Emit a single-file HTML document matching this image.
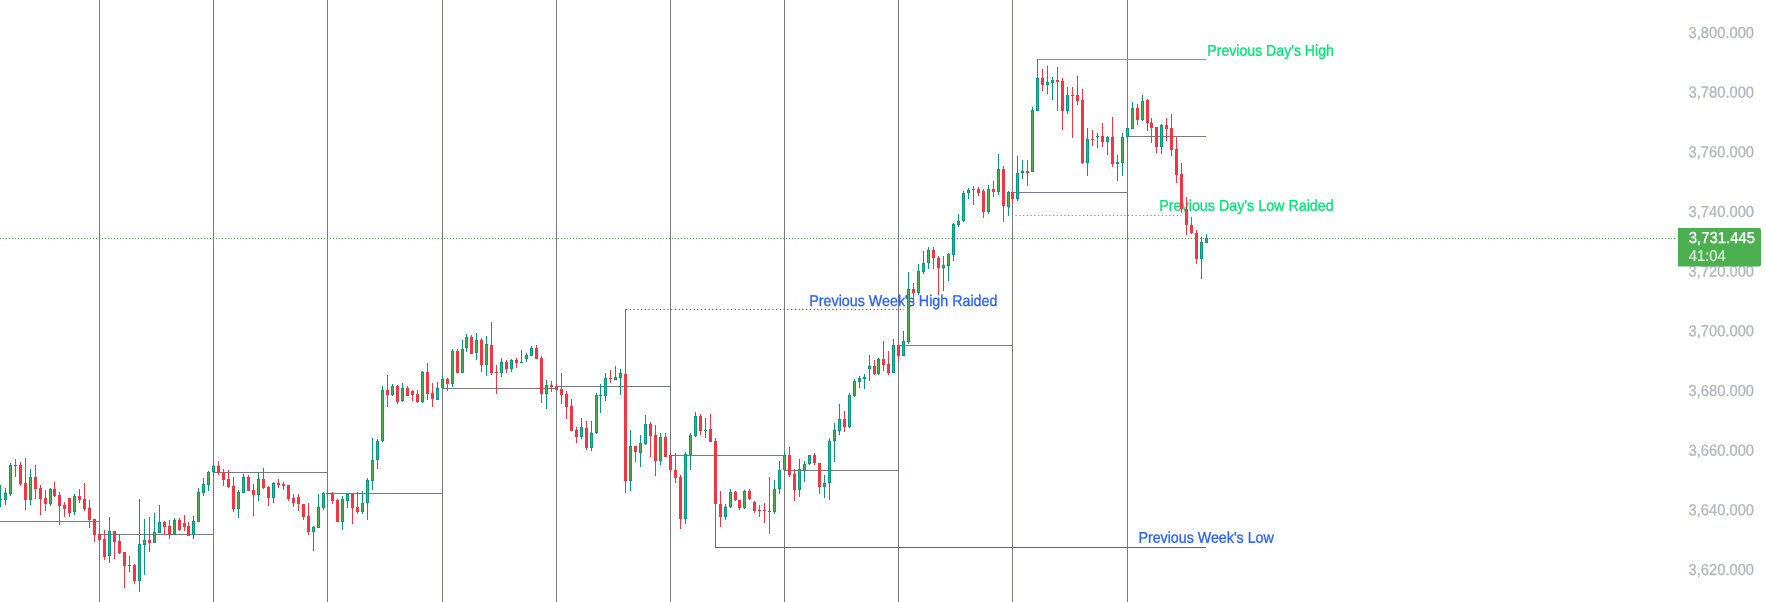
<!DOCTYPE html>
<html><head><meta charset="utf-8"><title>chart</title>
<style>
html,body{margin:0;padding:0;background:#ffffff;}
body{width:1766px;height:602px;overflow:hidden;font-family:"Liberation Sans",sans-serif;}
svg{display:block;font-family:"Liberation Sans",sans-serif;will-change:transform;}
</style></head><body>
<svg width="1766" height="602" viewBox="0 0 1766 602">
<g shape-rendering="crispEdges">
<rect x="99" y="0" width="1" height="602" fill="#787B86"/>
<rect x="213" y="0" width="1" height="602" fill="#787B86"/>
<rect x="327" y="0" width="1" height="602" fill="#787B86"/>
<rect x="442" y="0" width="1" height="602" fill="#787B86"/>
<rect x="556" y="0" width="1" height="602" fill="#787B86"/>
<rect x="670" y="0" width="1" height="602" fill="#787B86"/>
<rect x="784" y="0" width="1" height="602" fill="#787B86"/>
<rect x="898" y="0" width="1" height="602" fill="#787B86"/>
<rect x="1012" y="0" width="1" height="602" fill="#787B86"/>
<rect x="1127" y="0" width="1" height="602" fill="#787B86"/>
<rect x="0" y="521" width="99" height="1" fill="#787B86"/>
<rect x="99" y="534" width="114" height="1" fill="#787B86"/>
<rect x="213" y="472" width="114" height="1" fill="#787B86"/>
<rect x="327" y="493" width="115" height="1" fill="#787B86"/>
<rect x="442" y="388" width="114" height="1" fill="#787B86"/>
<rect x="556" y="386" width="114" height="1" fill="#787B86"/>
<rect x="670" y="455" width="114" height="1" fill="#787B86"/>
<rect x="784" y="470" width="114" height="1" fill="#787B86"/>
<rect x="898" y="345" width="114" height="1" fill="#787B86"/>
<rect x="1012" y="192" width="115" height="1" fill="#787B86"/>
<rect x="1127" y="136" width="79" height="1" fill="#787B86"/>
</g>
<!-- price line -->
<line x1="0" y1="238.5" x2="1676" y2="238.5" stroke="#4CAF50" stroke-width="1" stroke-dasharray="1 2" shape-rendering="crispEdges"/>
<!-- drawings -->
<g shape-rendering="crispEdges">
<rect x="1037" y="59" width="169" height="1" fill="#00E676"/>
<rect x="715" y="547" width="491" height="1" fill="#2962FF"/>
</g>
<line x1="1008" y1="215.5" x2="1181.5" y2="215.5" stroke="#00E676" stroke-width="1" stroke-dasharray="1.25 2.5"/>
<line x1="626" y1="309.5" x2="904" y2="309.5" stroke="#2962FF" stroke-width="1" stroke-dasharray="1.25 2.5"/>
<g transform="translate(1207.3,55.7) rotate(0.03) scale(1,1.06)"><text x="0" y="0" textLength="126.6" lengthAdjust="spacingAndGlyphs" fill="#00E676" stroke="#00E676" stroke-width="0.3" font-size="14.7">Previous Day's High</text></g>
<g transform="translate(1159.3,210.7) rotate(0.03) scale(1,1.06)"><text x="0" y="0" textLength="174.4" lengthAdjust="spacingAndGlyphs" fill="#00E676" stroke="#00E676" stroke-width="0.3" font-size="14.7">Previous Day's Low Raided</text></g>
<g transform="translate(809.3,305.9) rotate(0.03) scale(1,1.06)"><text x="0" y="0" textLength="188.1" lengthAdjust="spacingAndGlyphs" fill="#2962FF" stroke="#2962FF" stroke-width="0.3" font-size="14.7">Previous Week's High Raided</text></g>
<g transform="translate(1138.4,542.7) rotate(0.03) scale(1,1.06)"><text x="0" y="0" textLength="135.4" lengthAdjust="spacingAndGlyphs" fill="#2962FF" stroke="#2962FF" stroke-width="0.3" font-size="14.7">Previous Week's Low</text></g>
<g shape-rendering="crispEdges">
<rect x="0" y="485" width="1" height="22" fill="#089981"/>
<rect x="-1" y="499" width="3" height="1" fill="#089981"/>
<rect x="5" y="488" width="1" height="17" fill="#089981"/>
<rect x="4" y="493" width="3" height="7" fill="#089981"/>
<rect x="5" y="494" width="1" height="5" fill="#4CAF50"/>
<rect x="10" y="463" width="1" height="33" fill="#089981"/>
<rect x="9" y="465" width="3" height="29" fill="#089981"/>
<rect x="10" y="466" width="1" height="27" fill="#4CAF50"/>
<rect x="15" y="459" width="1" height="18" fill="#F23645"/>
<rect x="14" y="465" width="3" height="1" fill="#F23645"/>
<rect x="20" y="462" width="1" height="24" fill="#F23645"/>
<rect x="19" y="465" width="3" height="19" fill="#F23645"/>
<rect x="25" y="458" width="1" height="52" fill="#F23645"/>
<rect x="24" y="483" width="3" height="17" fill="#F23645"/>
<rect x="30" y="469" width="1" height="36" fill="#089981"/>
<rect x="29" y="477" width="3" height="23" fill="#089981"/>
<rect x="30" y="478" width="1" height="21" fill="#4CAF50"/>
<rect x="35" y="465" width="1" height="34" fill="#F23645"/>
<rect x="34" y="477" width="3" height="12" fill="#F23645"/>
<rect x="40" y="485" width="1" height="30" fill="#F23645"/>
<rect x="39" y="488" width="3" height="11" fill="#F23645"/>
<rect x="45" y="490" width="1" height="21" fill="#F23645"/>
<rect x="44" y="498" width="3" height="6" fill="#F23645"/>
<rect x="50" y="488" width="1" height="18" fill="#089981"/>
<rect x="49" y="489" width="3" height="15" fill="#089981"/>
<rect x="50" y="490" width="1" height="13" fill="#4CAF50"/>
<rect x="54" y="482" width="1" height="15" fill="#F23645"/>
<rect x="53" y="489" width="3" height="7" fill="#F23645"/>
<rect x="59" y="492" width="1" height="33" fill="#F23645"/>
<rect x="58" y="495" width="3" height="11" fill="#F23645"/>
<rect x="64" y="502" width="1" height="15" fill="#F23645"/>
<rect x="63" y="505" width="3" height="4" fill="#F23645"/>
<rect x="69" y="498" width="1" height="19" fill="#F23645"/>
<rect x="68" y="498" width="3" height="15" fill="#F23645"/>
<rect x="74" y="494" width="1" height="21" fill="#089981"/>
<rect x="73" y="496" width="3" height="16" fill="#089981"/>
<rect x="74" y="497" width="1" height="14" fill="#4CAF50"/>
<rect x="79" y="489" width="1" height="14" fill="#F23645"/>
<rect x="78" y="496" width="3" height="4" fill="#F23645"/>
<rect x="84" y="483" width="1" height="28" fill="#F23645"/>
<rect x="83" y="499" width="3" height="10" fill="#F23645"/>
<rect x="89" y="500" width="1" height="28" fill="#F23645"/>
<rect x="88" y="508" width="3" height="12" fill="#F23645"/>
<rect x="94" y="519" width="1" height="23" fill="#F23645"/>
<rect x="93" y="519" width="3" height="16" fill="#F23645"/>
<rect x="99" y="528" width="1" height="12" fill="#F23645"/>
<rect x="98" y="534" width="3" height="6" fill="#F23645"/>
<rect x="104" y="530" width="1" height="30" fill="#F23645"/>
<rect x="103" y="539" width="3" height="18" fill="#F23645"/>
<rect x="109" y="517" width="1" height="46" fill="#089981"/>
<rect x="108" y="531" width="3" height="25" fill="#089981"/>
<rect x="109" y="532" width="1" height="23" fill="#4CAF50"/>
<rect x="114" y="531" width="1" height="28" fill="#F23645"/>
<rect x="113" y="531" width="3" height="11" fill="#F23645"/>
<rect x="119" y="535" width="1" height="19" fill="#F23645"/>
<rect x="118" y="541" width="3" height="12" fill="#F23645"/>
<rect x="124" y="552" width="1" height="36" fill="#F23645"/>
<rect x="123" y="552" width="3" height="14" fill="#F23645"/>
<rect x="129" y="556" width="1" height="16" fill="#089981"/>
<rect x="128" y="565" width="3" height="1" fill="#089981"/>
<rect x="134" y="564" width="1" height="20" fill="#F23645"/>
<rect x="133" y="565" width="3" height="16" fill="#F23645"/>
<rect x="139" y="499" width="1" height="93" fill="#089981"/>
<rect x="138" y="544" width="3" height="37" fill="#089981"/>
<rect x="139" y="545" width="1" height="35" fill="#4CAF50"/>
<rect x="144" y="519" width="1" height="56" fill="#089981"/>
<rect x="143" y="540" width="3" height="5" fill="#089981"/>
<rect x="144" y="541" width="1" height="3" fill="#4CAF50"/>
<rect x="149" y="517" width="1" height="35" fill="#F23645"/>
<rect x="148" y="540" width="3" height="3" fill="#F23645"/>
<rect x="154" y="513" width="1" height="30" fill="#089981"/>
<rect x="153" y="532" width="3" height="11" fill="#089981"/>
<rect x="154" y="533" width="1" height="9" fill="#4CAF50"/>
<rect x="159" y="505" width="1" height="28" fill="#089981"/>
<rect x="158" y="522" width="3" height="11" fill="#089981"/>
<rect x="159" y="523" width="1" height="9" fill="#4CAF50"/>
<rect x="164" y="521" width="1" height="14" fill="#F23645"/>
<rect x="163" y="522" width="3" height="5" fill="#F23645"/>
<rect x="169" y="520" width="1" height="19" fill="#F23645"/>
<rect x="168" y="526" width="3" height="9" fill="#F23645"/>
<rect x="174" y="518" width="1" height="17" fill="#089981"/>
<rect x="173" y="520" width="3" height="15" fill="#089981"/>
<rect x="174" y="521" width="1" height="13" fill="#4CAF50"/>
<rect x="179" y="518" width="1" height="13" fill="#F23645"/>
<rect x="178" y="520" width="3" height="10" fill="#F23645"/>
<rect x="184" y="515" width="1" height="16" fill="#F23645"/>
<rect x="183" y="523" width="3" height="4" fill="#F23645"/>
<rect x="188" y="522" width="1" height="14" fill="#F23645"/>
<rect x="187" y="526" width="3" height="10" fill="#F23645"/>
<rect x="193" y="516" width="1" height="23" fill="#089981"/>
<rect x="192" y="521" width="3" height="14" fill="#089981"/>
<rect x="193" y="522" width="1" height="12" fill="#4CAF50"/>
<rect x="198" y="488" width="1" height="34" fill="#089981"/>
<rect x="197" y="492" width="3" height="30" fill="#089981"/>
<rect x="198" y="493" width="1" height="28" fill="#4CAF50"/>
<rect x="203" y="478" width="1" height="18" fill="#089981"/>
<rect x="202" y="484" width="3" height="9" fill="#089981"/>
<rect x="203" y="485" width="1" height="7" fill="#4CAF50"/>
<rect x="208" y="471" width="1" height="20" fill="#089981"/>
<rect x="207" y="472" width="3" height="13" fill="#089981"/>
<rect x="208" y="473" width="1" height="11" fill="#4CAF50"/>
<rect x="213" y="462" width="1" height="14" fill="#089981"/>
<rect x="212" y="466" width="3" height="6" fill="#089981"/>
<rect x="213" y="467" width="1" height="4" fill="#4CAF50"/>
<rect x="218" y="461" width="1" height="14" fill="#F23645"/>
<rect x="217" y="466" width="3" height="6" fill="#F23645"/>
<rect x="223" y="469" width="1" height="17" fill="#F23645"/>
<rect x="222" y="472" width="3" height="8" fill="#F23645"/>
<rect x="228" y="470" width="1" height="18" fill="#F23645"/>
<rect x="227" y="479" width="3" height="8" fill="#F23645"/>
<rect x="233" y="477" width="1" height="35" fill="#F23645"/>
<rect x="232" y="486" width="3" height="23" fill="#F23645"/>
<rect x="238" y="490" width="1" height="28" fill="#089981"/>
<rect x="237" y="492" width="3" height="17" fill="#089981"/>
<rect x="238" y="493" width="1" height="15" fill="#4CAF50"/>
<rect x="243" y="474" width="1" height="19" fill="#089981"/>
<rect x="242" y="477" width="3" height="16" fill="#089981"/>
<rect x="243" y="478" width="1" height="14" fill="#4CAF50"/>
<rect x="248" y="475" width="1" height="16" fill="#F23645"/>
<rect x="247" y="477" width="3" height="14" fill="#F23645"/>
<rect x="253" y="484" width="1" height="32" fill="#F23645"/>
<rect x="252" y="490" width="3" height="5" fill="#F23645"/>
<rect x="258" y="473" width="1" height="28" fill="#089981"/>
<rect x="257" y="479" width="3" height="16" fill="#089981"/>
<rect x="258" y="480" width="1" height="14" fill="#4CAF50"/>
<rect x="263" y="468" width="1" height="21" fill="#F23645"/>
<rect x="262" y="479" width="3" height="9" fill="#F23645"/>
<rect x="268" y="486" width="1" height="20" fill="#F23645"/>
<rect x="267" y="487" width="3" height="11" fill="#F23645"/>
<rect x="273" y="482" width="1" height="21" fill="#089981"/>
<rect x="272" y="483" width="3" height="15" fill="#089981"/>
<rect x="273" y="484" width="1" height="13" fill="#4CAF50"/>
<rect x="278" y="479" width="1" height="9" fill="#F23645"/>
<rect x="277" y="483" width="3" height="2" fill="#F23645"/>
<rect x="283" y="482" width="1" height="8" fill="#F23645"/>
<rect x="282" y="484" width="3" height="2" fill="#F23645"/>
<rect x="288" y="485" width="1" height="16" fill="#F23645"/>
<rect x="287" y="485" width="3" height="14" fill="#F23645"/>
<rect x="293" y="494" width="1" height="13" fill="#F23645"/>
<rect x="292" y="498" width="3" height="5" fill="#F23645"/>
<rect x="298" y="494" width="1" height="17" fill="#F23645"/>
<rect x="297" y="497" width="3" height="7" fill="#F23645"/>
<rect x="303" y="504" width="1" height="16" fill="#F23645"/>
<rect x="302" y="504" width="3" height="13" fill="#F23645"/>
<rect x="308" y="503" width="1" height="32" fill="#F23645"/>
<rect x="307" y="516" width="3" height="16" fill="#F23645"/>
<rect x="313" y="526" width="1" height="25" fill="#089981"/>
<rect x="312" y="527" width="3" height="5" fill="#089981"/>
<rect x="313" y="528" width="1" height="3" fill="#4CAF50"/>
<rect x="318" y="494" width="1" height="34" fill="#089981"/>
<rect x="317" y="507" width="3" height="21" fill="#089981"/>
<rect x="318" y="508" width="1" height="19" fill="#4CAF50"/>
<rect x="323" y="492" width="1" height="18" fill="#089981"/>
<rect x="322" y="493" width="3" height="15" fill="#089981"/>
<rect x="323" y="494" width="1" height="13" fill="#4CAF50"/>
<rect x="327" y="490" width="1" height="9" fill="#F23645"/>
<rect x="326" y="493" width="3" height="1" fill="#F23645"/>
<rect x="332" y="492" width="1" height="12" fill="#F23645"/>
<rect x="331" y="493" width="3" height="8" fill="#F23645"/>
<rect x="337" y="499" width="1" height="23" fill="#F23645"/>
<rect x="336" y="500" width="3" height="22" fill="#F23645"/>
<rect x="342" y="496" width="1" height="34" fill="#089981"/>
<rect x="341" y="499" width="3" height="23" fill="#089981"/>
<rect x="342" y="500" width="1" height="21" fill="#4CAF50"/>
<rect x="347" y="493" width="1" height="15" fill="#089981"/>
<rect x="346" y="494" width="3" height="7" fill="#089981"/>
<rect x="347" y="495" width="1" height="5" fill="#4CAF50"/>
<rect x="352" y="493" width="1" height="31" fill="#F23645"/>
<rect x="351" y="494" width="3" height="14" fill="#F23645"/>
<rect x="357" y="492" width="1" height="22" fill="#F23645"/>
<rect x="356" y="507" width="3" height="5" fill="#F23645"/>
<rect x="362" y="491" width="1" height="23" fill="#089981"/>
<rect x="361" y="503" width="3" height="9" fill="#089981"/>
<rect x="362" y="504" width="1" height="7" fill="#4CAF50"/>
<rect x="367" y="478" width="1" height="42" fill="#089981"/>
<rect x="366" y="480" width="3" height="23" fill="#089981"/>
<rect x="367" y="481" width="1" height="21" fill="#4CAF50"/>
<rect x="372" y="438" width="1" height="52" fill="#089981"/>
<rect x="371" y="460" width="3" height="21" fill="#089981"/>
<rect x="372" y="461" width="1" height="19" fill="#4CAF50"/>
<rect x="377" y="439" width="1" height="30" fill="#089981"/>
<rect x="376" y="441" width="3" height="19" fill="#089981"/>
<rect x="377" y="442" width="1" height="17" fill="#4CAF50"/>
<rect x="382" y="386" width="1" height="56" fill="#089981"/>
<rect x="381" y="390" width="3" height="51" fill="#089981"/>
<rect x="382" y="391" width="1" height="49" fill="#4CAF50"/>
<rect x="387" y="375" width="1" height="32" fill="#F23645"/>
<rect x="386" y="390" width="3" height="5" fill="#F23645"/>
<rect x="392" y="384" width="1" height="12" fill="#089981"/>
<rect x="391" y="386" width="3" height="9" fill="#089981"/>
<rect x="392" y="387" width="1" height="7" fill="#4CAF50"/>
<rect x="397" y="385" width="1" height="19" fill="#F23645"/>
<rect x="396" y="386" width="3" height="16" fill="#F23645"/>
<rect x="402" y="383" width="1" height="19" fill="#089981"/>
<rect x="401" y="388" width="3" height="13" fill="#089981"/>
<rect x="402" y="389" width="1" height="11" fill="#4CAF50"/>
<rect x="407" y="386" width="1" height="10" fill="#F23645"/>
<rect x="406" y="388" width="3" height="8" fill="#F23645"/>
<rect x="412" y="390" width="1" height="11" fill="#F23645"/>
<rect x="411" y="391" width="3" height="4" fill="#F23645"/>
<rect x="417" y="390" width="1" height="13" fill="#F23645"/>
<rect x="416" y="394" width="3" height="8" fill="#F23645"/>
<rect x="422" y="371" width="1" height="32" fill="#089981"/>
<rect x="421" y="372" width="3" height="30" fill="#089981"/>
<rect x="422" y="373" width="1" height="28" fill="#4CAF50"/>
<rect x="427" y="363" width="1" height="37" fill="#F23645"/>
<rect x="426" y="372" width="3" height="22" fill="#F23645"/>
<rect x="432" y="383" width="1" height="24" fill="#F23645"/>
<rect x="431" y="393" width="3" height="6" fill="#F23645"/>
<rect x="437" y="382" width="1" height="18" fill="#089981"/>
<rect x="436" y="388" width="3" height="12" fill="#089981"/>
<rect x="437" y="389" width="1" height="10" fill="#4CAF50"/>
<rect x="442" y="375" width="1" height="14" fill="#089981"/>
<rect x="441" y="379" width="3" height="9" fill="#089981"/>
<rect x="442" y="380" width="1" height="7" fill="#4CAF50"/>
<rect x="447" y="378" width="1" height="13" fill="#F23645"/>
<rect x="446" y="379" width="3" height="5" fill="#F23645"/>
<rect x="452" y="349" width="1" height="38" fill="#089981"/>
<rect x="451" y="351" width="3" height="33" fill="#089981"/>
<rect x="452" y="352" width="1" height="31" fill="#4CAF50"/>
<rect x="457" y="349" width="1" height="24" fill="#F23645"/>
<rect x="456" y="351" width="3" height="22" fill="#F23645"/>
<rect x="462" y="340" width="1" height="33" fill="#089981"/>
<rect x="461" y="349" width="3" height="24" fill="#089981"/>
<rect x="462" y="350" width="1" height="22" fill="#4CAF50"/>
<rect x="466" y="334" width="1" height="18" fill="#089981"/>
<rect x="465" y="337" width="3" height="11" fill="#089981"/>
<rect x="466" y="338" width="1" height="9" fill="#4CAF50"/>
<rect x="471" y="335" width="1" height="19" fill="#F23645"/>
<rect x="470" y="337" width="3" height="17" fill="#F23645"/>
<rect x="476" y="333" width="1" height="27" fill="#089981"/>
<rect x="475" y="340" width="3" height="13" fill="#089981"/>
<rect x="476" y="341" width="1" height="11" fill="#4CAF50"/>
<rect x="481" y="338" width="1" height="34" fill="#F23645"/>
<rect x="480" y="340" width="3" height="25" fill="#F23645"/>
<rect x="486" y="336" width="1" height="40" fill="#089981"/>
<rect x="485" y="344" width="3" height="21" fill="#089981"/>
<rect x="486" y="345" width="1" height="19" fill="#4CAF50"/>
<rect x="491" y="322" width="1" height="53" fill="#F23645"/>
<rect x="490" y="345" width="3" height="28" fill="#F23645"/>
<rect x="496" y="365" width="1" height="29" fill="#F23645"/>
<rect x="495" y="372" width="3" height="1" fill="#F23645"/>
<rect x="501" y="358" width="1" height="19" fill="#089981"/>
<rect x="500" y="362" width="3" height="11" fill="#089981"/>
<rect x="501" y="363" width="1" height="9" fill="#4CAF50"/>
<rect x="506" y="360" width="1" height="13" fill="#F23645"/>
<rect x="505" y="362" width="3" height="7" fill="#F23645"/>
<rect x="511" y="359" width="1" height="13" fill="#089981"/>
<rect x="510" y="360" width="3" height="9" fill="#089981"/>
<rect x="511" y="361" width="1" height="7" fill="#4CAF50"/>
<rect x="516" y="358" width="1" height="10" fill="#F23645"/>
<rect x="515" y="360" width="3" height="3" fill="#F23645"/>
<rect x="521" y="350" width="1" height="13" fill="#089981"/>
<rect x="520" y="362" width="3" height="1" fill="#089981"/>
<rect x="526" y="353" width="1" height="9" fill="#089981"/>
<rect x="525" y="355" width="3" height="4" fill="#089981"/>
<rect x="526" y="356" width="1" height="2" fill="#4CAF50"/>
<rect x="531" y="346" width="1" height="10" fill="#089981"/>
<rect x="530" y="348" width="3" height="8" fill="#089981"/>
<rect x="531" y="349" width="1" height="6" fill="#4CAF50"/>
<rect x="536" y="345" width="1" height="14" fill="#F23645"/>
<rect x="535" y="348" width="3" height="11" fill="#F23645"/>
<rect x="541" y="356" width="1" height="47" fill="#F23645"/>
<rect x="540" y="358" width="3" height="36" fill="#F23645"/>
<rect x="546" y="380" width="1" height="29" fill="#089981"/>
<rect x="545" y="385" width="3" height="9" fill="#089981"/>
<rect x="546" y="386" width="1" height="7" fill="#4CAF50"/>
<rect x="551" y="381" width="1" height="11" fill="#F23645"/>
<rect x="550" y="385" width="3" height="2" fill="#F23645"/>
<rect x="556" y="384" width="1" height="6" fill="#F23645"/>
<rect x="555" y="386" width="3" height="4" fill="#F23645"/>
<rect x="561" y="373" width="1" height="31" fill="#F23645"/>
<rect x="560" y="389" width="3" height="6" fill="#F23645"/>
<rect x="566" y="391" width="1" height="28" fill="#F23645"/>
<rect x="565" y="394" width="3" height="13" fill="#F23645"/>
<rect x="571" y="399" width="1" height="32" fill="#F23645"/>
<rect x="570" y="406" width="3" height="25" fill="#F23645"/>
<rect x="576" y="427" width="1" height="16" fill="#F23645"/>
<rect x="575" y="430" width="3" height="7" fill="#F23645"/>
<rect x="581" y="418" width="1" height="21" fill="#089981"/>
<rect x="580" y="427" width="3" height="10" fill="#089981"/>
<rect x="581" y="428" width="1" height="8" fill="#4CAF50"/>
<rect x="586" y="421" width="1" height="29" fill="#F23645"/>
<rect x="585" y="428" width="3" height="20" fill="#F23645"/>
<rect x="591" y="421" width="1" height="30" fill="#089981"/>
<rect x="590" y="433" width="3" height="15" fill="#089981"/>
<rect x="591" y="434" width="1" height="13" fill="#4CAF50"/>
<rect x="596" y="393" width="1" height="41" fill="#089981"/>
<rect x="595" y="395" width="3" height="38" fill="#089981"/>
<rect x="596" y="396" width="1" height="36" fill="#4CAF50"/>
<rect x="600" y="384" width="1" height="29" fill="#089981"/>
<rect x="599" y="395" width="3" height="1" fill="#089981"/>
<rect x="605" y="373" width="1" height="28" fill="#089981"/>
<rect x="604" y="378" width="3" height="18" fill="#089981"/>
<rect x="605" y="379" width="1" height="16" fill="#4CAF50"/>
<rect x="610" y="370" width="1" height="13" fill="#F23645"/>
<rect x="609" y="378" width="3" height="1" fill="#F23645"/>
<rect x="615" y="366" width="1" height="14" fill="#089981"/>
<rect x="614" y="377" width="3" height="3" fill="#089981"/>
<rect x="615" y="378" width="1" height="1" fill="#4CAF50"/>
<rect x="620" y="369" width="1" height="26" fill="#089981"/>
<rect x="619" y="373" width="3" height="5" fill="#089981"/>
<rect x="620" y="374" width="1" height="3" fill="#4CAF50"/>
<rect x="625" y="309" width="1" height="184" fill="#F23645"/>
<rect x="624" y="374" width="3" height="107" fill="#F23645"/>
<rect x="630" y="430" width="1" height="61" fill="#089981"/>
<rect x="629" y="446" width="3" height="35" fill="#089981"/>
<rect x="630" y="447" width="1" height="33" fill="#4CAF50"/>
<rect x="635" y="446" width="1" height="16" fill="#F23645"/>
<rect x="634" y="446" width="3" height="6" fill="#F23645"/>
<rect x="640" y="435" width="1" height="32" fill="#089981"/>
<rect x="639" y="443" width="3" height="10" fill="#089981"/>
<rect x="640" y="444" width="1" height="8" fill="#4CAF50"/>
<rect x="645" y="415" width="1" height="30" fill="#089981"/>
<rect x="644" y="424" width="3" height="20" fill="#089981"/>
<rect x="645" y="425" width="1" height="18" fill="#4CAF50"/>
<rect x="650" y="422" width="1" height="35" fill="#F23645"/>
<rect x="649" y="424" width="3" height="12" fill="#F23645"/>
<rect x="655" y="425" width="1" height="51" fill="#F23645"/>
<rect x="654" y="435" width="3" height="26" fill="#F23645"/>
<rect x="660" y="433" width="1" height="32" fill="#089981"/>
<rect x="659" y="437" width="3" height="24" fill="#089981"/>
<rect x="660" y="438" width="1" height="22" fill="#4CAF50"/>
<rect x="665" y="433" width="1" height="24" fill="#F23645"/>
<rect x="664" y="437" width="3" height="20" fill="#F23645"/>
<rect x="670" y="453" width="1" height="18" fill="#F23645"/>
<rect x="669" y="455" width="3" height="15" fill="#F23645"/>
<rect x="675" y="453" width="1" height="30" fill="#F23645"/>
<rect x="674" y="470" width="3" height="8" fill="#F23645"/>
<rect x="680" y="475" width="1" height="54" fill="#F23645"/>
<rect x="679" y="477" width="3" height="42" fill="#F23645"/>
<rect x="685" y="452" width="1" height="72" fill="#089981"/>
<rect x="684" y="454" width="3" height="65" fill="#089981"/>
<rect x="685" y="455" width="1" height="63" fill="#4CAF50"/>
<rect x="690" y="433" width="1" height="37" fill="#089981"/>
<rect x="689" y="435" width="3" height="20" fill="#089981"/>
<rect x="690" y="436" width="1" height="18" fill="#4CAF50"/>
<rect x="695" y="412" width="1" height="25" fill="#089981"/>
<rect x="694" y="416" width="3" height="20" fill="#089981"/>
<rect x="695" y="417" width="1" height="18" fill="#4CAF50"/>
<rect x="700" y="414" width="1" height="21" fill="#F23645"/>
<rect x="699" y="416" width="3" height="15" fill="#F23645"/>
<rect x="705" y="418" width="1" height="20" fill="#089981"/>
<rect x="704" y="430" width="3" height="1" fill="#089981"/>
<rect x="710" y="414" width="1" height="28" fill="#F23645"/>
<rect x="709" y="429" width="3" height="13" fill="#F23645"/>
<rect x="715" y="438" width="1" height="109" fill="#F23645"/>
<rect x="714" y="441" width="3" height="63" fill="#F23645"/>
<rect x="720" y="491" width="1" height="36" fill="#F23645"/>
<rect x="719" y="504" width="3" height="13" fill="#F23645"/>
<rect x="725" y="504" width="1" height="16" fill="#089981"/>
<rect x="724" y="507" width="3" height="10" fill="#089981"/>
<rect x="725" y="508" width="1" height="8" fill="#4CAF50"/>
<rect x="730" y="489" width="1" height="19" fill="#089981"/>
<rect x="729" y="492" width="3" height="15" fill="#089981"/>
<rect x="730" y="493" width="1" height="13" fill="#4CAF50"/>
<rect x="735" y="491" width="1" height="10" fill="#F23645"/>
<rect x="734" y="492" width="3" height="8" fill="#F23645"/>
<rect x="739" y="500" width="1" height="10" fill="#F23645"/>
<rect x="738" y="500" width="3" height="8" fill="#F23645"/>
<rect x="744" y="490" width="1" height="19" fill="#089981"/>
<rect x="743" y="491" width="3" height="17" fill="#089981"/>
<rect x="744" y="492" width="1" height="15" fill="#4CAF50"/>
<rect x="749" y="489" width="1" height="11" fill="#F23645"/>
<rect x="748" y="491" width="3" height="8" fill="#F23645"/>
<rect x="754" y="501" width="1" height="12" fill="#F23645"/>
<rect x="753" y="502" width="3" height="9" fill="#F23645"/>
<rect x="759" y="505" width="1" height="12" fill="#F23645"/>
<rect x="758" y="510" width="3" height="1" fill="#F23645"/>
<rect x="764" y="503" width="1" height="20" fill="#F23645"/>
<rect x="763" y="510" width="3" height="1" fill="#F23645"/>
<rect x="769" y="477" width="1" height="57" fill="#F23645"/>
<rect x="768" y="511" width="3" height="1" fill="#F23645"/>
<rect x="774" y="480" width="1" height="34" fill="#089981"/>
<rect x="773" y="489" width="3" height="23" fill="#089981"/>
<rect x="774" y="490" width="1" height="21" fill="#4CAF50"/>
<rect x="779" y="461" width="1" height="33" fill="#089981"/>
<rect x="778" y="470" width="3" height="19" fill="#089981"/>
<rect x="779" y="471" width="1" height="17" fill="#4CAF50"/>
<rect x="784" y="451" width="1" height="19" fill="#089981"/>
<rect x="783" y="455" width="3" height="15" fill="#089981"/>
<rect x="784" y="456" width="1" height="13" fill="#4CAF50"/>
<rect x="789" y="447" width="1" height="30" fill="#F23645"/>
<rect x="788" y="455" width="3" height="20" fill="#F23645"/>
<rect x="794" y="469" width="1" height="32" fill="#F23645"/>
<rect x="793" y="474" width="3" height="16" fill="#F23645"/>
<rect x="799" y="459" width="1" height="38" fill="#089981"/>
<rect x="798" y="469" width="3" height="21" fill="#089981"/>
<rect x="799" y="470" width="1" height="19" fill="#4CAF50"/>
<rect x="804" y="461" width="1" height="21" fill="#089981"/>
<rect x="803" y="464" width="3" height="6" fill="#089981"/>
<rect x="804" y="465" width="1" height="4" fill="#4CAF50"/>
<rect x="809" y="455" width="1" height="10" fill="#089981"/>
<rect x="808" y="455" width="3" height="9" fill="#089981"/>
<rect x="809" y="456" width="1" height="7" fill="#4CAF50"/>
<rect x="814" y="453" width="1" height="12" fill="#F23645"/>
<rect x="813" y="455" width="3" height="8" fill="#F23645"/>
<rect x="819" y="463" width="1" height="31" fill="#F23645"/>
<rect x="818" y="463" width="3" height="24" fill="#F23645"/>
<rect x="824" y="475" width="1" height="23" fill="#089981"/>
<rect x="823" y="483" width="3" height="4" fill="#089981"/>
<rect x="824" y="484" width="1" height="2" fill="#4CAF50"/>
<rect x="829" y="438" width="1" height="62" fill="#089981"/>
<rect x="828" y="441" width="3" height="42" fill="#089981"/>
<rect x="829" y="442" width="1" height="40" fill="#4CAF50"/>
<rect x="834" y="423" width="1" height="39" fill="#089981"/>
<rect x="833" y="430" width="3" height="11" fill="#089981"/>
<rect x="834" y="431" width="1" height="9" fill="#4CAF50"/>
<rect x="839" y="404" width="1" height="31" fill="#089981"/>
<rect x="838" y="419" width="3" height="12" fill="#089981"/>
<rect x="839" y="420" width="1" height="10" fill="#4CAF50"/>
<rect x="844" y="411" width="1" height="21" fill="#F23645"/>
<rect x="843" y="419" width="3" height="8" fill="#F23645"/>
<rect x="849" y="393" width="1" height="35" fill="#089981"/>
<rect x="848" y="395" width="3" height="32" fill="#089981"/>
<rect x="849" y="396" width="1" height="30" fill="#4CAF50"/>
<rect x="854" y="379" width="1" height="18" fill="#089981"/>
<rect x="853" y="381" width="3" height="15" fill="#089981"/>
<rect x="854" y="382" width="1" height="13" fill="#4CAF50"/>
<rect x="859" y="376" width="1" height="12" fill="#089981"/>
<rect x="858" y="378" width="3" height="4" fill="#089981"/>
<rect x="859" y="379" width="1" height="2" fill="#4CAF50"/>
<rect x="864" y="374" width="1" height="15" fill="#089981"/>
<rect x="863" y="377" width="3" height="2" fill="#089981"/>
<rect x="869" y="355" width="1" height="26" fill="#089981"/>
<rect x="868" y="366" width="3" height="3" fill="#089981"/>
<rect x="869" y="367" width="1" height="1" fill="#4CAF50"/>
<rect x="874" y="360" width="1" height="15" fill="#F23645"/>
<rect x="873" y="366" width="3" height="8" fill="#F23645"/>
<rect x="878" y="358" width="1" height="17" fill="#089981"/>
<rect x="877" y="359" width="3" height="15" fill="#089981"/>
<rect x="878" y="360" width="1" height="13" fill="#4CAF50"/>
<rect x="883" y="341" width="1" height="30" fill="#F23645"/>
<rect x="882" y="359" width="3" height="6" fill="#F23645"/>
<rect x="888" y="351" width="1" height="24" fill="#F23645"/>
<rect x="887" y="364" width="3" height="9" fill="#F23645"/>
<rect x="893" y="339" width="1" height="34" fill="#089981"/>
<rect x="892" y="345" width="3" height="28" fill="#089981"/>
<rect x="893" y="346" width="1" height="26" fill="#4CAF50"/>
<rect x="898" y="344" width="1" height="17" fill="#F23645"/>
<rect x="897" y="345" width="3" height="11" fill="#F23645"/>
<rect x="903" y="331" width="1" height="25" fill="#089981"/>
<rect x="902" y="341" width="3" height="15" fill="#089981"/>
<rect x="903" y="342" width="1" height="13" fill="#4CAF50"/>
<rect x="908" y="272" width="1" height="72" fill="#089981"/>
<rect x="907" y="289" width="3" height="53" fill="#089981"/>
<rect x="908" y="290" width="1" height="51" fill="#4CAF50"/>
<rect x="913" y="283" width="1" height="23" fill="#F23645"/>
<rect x="912" y="289" width="3" height="4" fill="#F23645"/>
<rect x="918" y="264" width="1" height="31" fill="#089981"/>
<rect x="917" y="271" width="3" height="22" fill="#089981"/>
<rect x="918" y="272" width="1" height="20" fill="#4CAF50"/>
<rect x="923" y="251" width="1" height="23" fill="#089981"/>
<rect x="922" y="263" width="3" height="9" fill="#089981"/>
<rect x="923" y="264" width="1" height="7" fill="#4CAF50"/>
<rect x="928" y="247" width="1" height="22" fill="#089981"/>
<rect x="927" y="250" width="3" height="13" fill="#089981"/>
<rect x="928" y="251" width="1" height="11" fill="#4CAF50"/>
<rect x="933" y="247" width="1" height="22" fill="#F23645"/>
<rect x="932" y="250" width="3" height="8" fill="#F23645"/>
<rect x="938" y="256" width="1" height="39" fill="#F23645"/>
<rect x="937" y="258" width="3" height="10" fill="#F23645"/>
<rect x="943" y="256" width="1" height="35" fill="#089981"/>
<rect x="942" y="265" width="3" height="3" fill="#089981"/>
<rect x="943" y="266" width="1" height="1" fill="#4CAF50"/>
<rect x="948" y="253" width="1" height="28" fill="#089981"/>
<rect x="947" y="254" width="3" height="12" fill="#089981"/>
<rect x="948" y="255" width="1" height="10" fill="#4CAF50"/>
<rect x="953" y="223" width="1" height="38" fill="#089981"/>
<rect x="952" y="224" width="3" height="31" fill="#089981"/>
<rect x="953" y="225" width="1" height="29" fill="#4CAF50"/>
<rect x="958" y="214" width="1" height="13" fill="#089981"/>
<rect x="957" y="221" width="3" height="4" fill="#089981"/>
<rect x="958" y="222" width="1" height="2" fill="#4CAF50"/>
<rect x="963" y="191" width="1" height="31" fill="#089981"/>
<rect x="962" y="193" width="3" height="28" fill="#089981"/>
<rect x="963" y="194" width="1" height="26" fill="#4CAF50"/>
<rect x="968" y="188" width="1" height="11" fill="#089981"/>
<rect x="967" y="190" width="3" height="3" fill="#089981"/>
<rect x="968" y="191" width="1" height="1" fill="#4CAF50"/>
<rect x="973" y="186" width="1" height="19" fill="#F23645"/>
<rect x="972" y="189" width="3" height="1" fill="#F23645"/>
<rect x="978" y="187" width="1" height="9" fill="#F23645"/>
<rect x="977" y="189" width="3" height="4" fill="#F23645"/>
<rect x="983" y="189" width="1" height="29" fill="#F23645"/>
<rect x="982" y="191" width="3" height="21" fill="#F23645"/>
<rect x="988" y="185" width="1" height="29" fill="#089981"/>
<rect x="987" y="189" width="3" height="23" fill="#089981"/>
<rect x="988" y="190" width="1" height="21" fill="#4CAF50"/>
<rect x="993" y="181" width="1" height="16" fill="#F23645"/>
<rect x="992" y="189" width="3" height="3" fill="#F23645"/>
<rect x="998" y="154" width="1" height="41" fill="#089981"/>
<rect x="997" y="169" width="3" height="23" fill="#089981"/>
<rect x="998" y="170" width="1" height="21" fill="#4CAF50"/>
<rect x="1003" y="166" width="1" height="56" fill="#F23645"/>
<rect x="1002" y="169" width="3" height="37" fill="#F23645"/>
<rect x="1008" y="191" width="1" height="25" fill="#089981"/>
<rect x="1007" y="192" width="3" height="15" fill="#089981"/>
<rect x="1008" y="193" width="1" height="13" fill="#4CAF50"/>
<rect x="1012" y="191" width="1" height="12" fill="#F23645"/>
<rect x="1011" y="192" width="3" height="7" fill="#F23645"/>
<rect x="1017" y="156" width="1" height="45" fill="#089981"/>
<rect x="1016" y="173" width="3" height="26" fill="#089981"/>
<rect x="1017" y="174" width="1" height="24" fill="#4CAF50"/>
<rect x="1022" y="160" width="1" height="19" fill="#089981"/>
<rect x="1021" y="171" width="3" height="2" fill="#089981"/>
<rect x="1027" y="160" width="1" height="26" fill="#F23645"/>
<rect x="1026" y="171" width="3" height="2" fill="#F23645"/>
<rect x="1032" y="107" width="1" height="65" fill="#089981"/>
<rect x="1031" y="110" width="3" height="62" fill="#089981"/>
<rect x="1032" y="111" width="1" height="60" fill="#4CAF50"/>
<rect x="1037" y="59" width="1" height="52" fill="#089981"/>
<rect x="1036" y="78" width="3" height="33" fill="#089981"/>
<rect x="1037" y="79" width="1" height="31" fill="#4CAF50"/>
<rect x="1042" y="69" width="1" height="22" fill="#F23645"/>
<rect x="1041" y="78" width="3" height="7" fill="#F23645"/>
<rect x="1047" y="66" width="1" height="28" fill="#089981"/>
<rect x="1046" y="82" width="3" height="3" fill="#089981"/>
<rect x="1047" y="83" width="1" height="1" fill="#4CAF50"/>
<rect x="1052" y="77" width="1" height="23" fill="#089981"/>
<rect x="1051" y="80" width="3" height="3" fill="#089981"/>
<rect x="1052" y="81" width="1" height="1" fill="#4CAF50"/>
<rect x="1057" y="67" width="1" height="44" fill="#F23645"/>
<rect x="1056" y="80" width="3" height="2" fill="#F23645"/>
<rect x="1062" y="78" width="1" height="52" fill="#F23645"/>
<rect x="1061" y="81" width="3" height="30" fill="#F23645"/>
<rect x="1067" y="87" width="1" height="27" fill="#089981"/>
<rect x="1066" y="95" width="3" height="16" fill="#089981"/>
<rect x="1067" y="96" width="1" height="14" fill="#4CAF50"/>
<rect x="1072" y="87" width="1" height="51" fill="#F23645"/>
<rect x="1071" y="95" width="3" height="1" fill="#F23645"/>
<rect x="1077" y="76" width="1" height="29" fill="#F23645"/>
<rect x="1076" y="95" width="3" height="6" fill="#F23645"/>
<rect x="1082" y="89" width="1" height="75" fill="#F23645"/>
<rect x="1081" y="100" width="3" height="63" fill="#F23645"/>
<rect x="1087" y="128" width="1" height="48" fill="#089981"/>
<rect x="1086" y="139" width="3" height="24" fill="#089981"/>
<rect x="1087" y="140" width="1" height="22" fill="#4CAF50"/>
<rect x="1092" y="130" width="1" height="16" fill="#F23645"/>
<rect x="1091" y="139" width="3" height="1" fill="#F23645"/>
<rect x="1097" y="133" width="1" height="15" fill="#089981"/>
<rect x="1096" y="136" width="3" height="1" fill="#089981"/>
<rect x="1102" y="123" width="1" height="24" fill="#F23645"/>
<rect x="1101" y="136" width="3" height="6" fill="#F23645"/>
<rect x="1107" y="136" width="1" height="19" fill="#089981"/>
<rect x="1106" y="137" width="3" height="5" fill="#089981"/>
<rect x="1107" y="138" width="1" height="3" fill="#4CAF50"/>
<rect x="1112" y="117" width="1" height="50" fill="#F23645"/>
<rect x="1111" y="137" width="3" height="27" fill="#F23645"/>
<rect x="1117" y="155" width="1" height="26" fill="#089981"/>
<rect x="1116" y="162" width="3" height="2" fill="#089981"/>
<rect x="1122" y="133" width="1" height="43" fill="#089981"/>
<rect x="1121" y="137" width="3" height="26" fill="#089981"/>
<rect x="1122" y="138" width="1" height="24" fill="#4CAF50"/>
<rect x="1127" y="128" width="1" height="15" fill="#089981"/>
<rect x="1126" y="128" width="3" height="9" fill="#089981"/>
<rect x="1127" y="129" width="1" height="7" fill="#4CAF50"/>
<rect x="1132" y="102" width="1" height="27" fill="#089981"/>
<rect x="1131" y="108" width="3" height="21" fill="#089981"/>
<rect x="1132" y="109" width="1" height="19" fill="#4CAF50"/>
<rect x="1137" y="104" width="1" height="21" fill="#F23645"/>
<rect x="1136" y="108" width="3" height="12" fill="#F23645"/>
<rect x="1142" y="95" width="1" height="26" fill="#089981"/>
<rect x="1141" y="101" width="3" height="19" fill="#089981"/>
<rect x="1142" y="102" width="1" height="17" fill="#4CAF50"/>
<rect x="1147" y="99" width="1" height="32" fill="#F23645"/>
<rect x="1146" y="100" width="3" height="23" fill="#F23645"/>
<rect x="1151" y="118" width="1" height="25" fill="#F23645"/>
<rect x="1150" y="123" width="3" height="5" fill="#F23645"/>
<rect x="1156" y="127" width="1" height="26" fill="#F23645"/>
<rect x="1155" y="127" width="3" height="20" fill="#F23645"/>
<rect x="1161" y="124" width="1" height="30" fill="#089981"/>
<rect x="1160" y="125" width="3" height="22" fill="#089981"/>
<rect x="1161" y="126" width="1" height="20" fill="#4CAF50"/>
<rect x="1166" y="118" width="1" height="23" fill="#F23645"/>
<rect x="1165" y="125" width="3" height="4" fill="#F23645"/>
<rect x="1171" y="114" width="1" height="42" fill="#F23645"/>
<rect x="1170" y="128" width="3" height="22" fill="#F23645"/>
<rect x="1176" y="137" width="1" height="46" fill="#F23645"/>
<rect x="1175" y="149" width="3" height="26" fill="#F23645"/>
<rect x="1181" y="163" width="1" height="50" fill="#F23645"/>
<rect x="1180" y="174" width="3" height="35" fill="#F23645"/>
<rect x="1186" y="197" width="1" height="38" fill="#F23645"/>
<rect x="1185" y="209" width="3" height="16" fill="#F23645"/>
<rect x="1191" y="217" width="1" height="17" fill="#F23645"/>
<rect x="1190" y="225" width="3" height="8" fill="#F23645"/>
<rect x="1196" y="230" width="1" height="34" fill="#F23645"/>
<rect x="1195" y="233" width="3" height="26" fill="#F23645"/>
<rect x="1201" y="237" width="1" height="42" fill="#089981"/>
<rect x="1200" y="242" width="3" height="17" fill="#089981"/>
<rect x="1201" y="243" width="1" height="15" fill="#4CAF50"/>
<rect x="1206" y="234" width="1" height="9" fill="#089981"/>
<rect x="1205" y="238" width="3" height="5" fill="#089981"/>
<rect x="1206" y="239" width="1" height="3" fill="#4CAF50"/>
</g>
<g transform="translate(1688.6,37.9) rotate(0.03) scale(1,1.08)"><text x="0" y="0" textLength="65.4" lengthAdjust="spacingAndGlyphs" fill="#B2B5BE" stroke="#B2B5BE" stroke-width="0.25" font-size="14.7">3,800.000</text></g>
<g transform="translate(1688.6,97.6) rotate(0.03) scale(1,1.08)"><text x="0" y="0" textLength="65.4" lengthAdjust="spacingAndGlyphs" fill="#B2B5BE" stroke="#B2B5BE" stroke-width="0.25" font-size="14.7">3,780.000</text></g>
<g transform="translate(1688.6,157.3) rotate(0.03) scale(1,1.08)"><text x="0" y="0" textLength="65.4" lengthAdjust="spacingAndGlyphs" fill="#B2B5BE" stroke="#B2B5BE" stroke-width="0.25" font-size="14.7">3,760.000</text></g>
<g transform="translate(1688.6,216.9) rotate(0.03) scale(1,1.08)"><text x="0" y="0" textLength="65.4" lengthAdjust="spacingAndGlyphs" fill="#B2B5BE" stroke="#B2B5BE" stroke-width="0.25" font-size="14.7">3,740.000</text></g>
<g transform="translate(1688.6,276.6) rotate(0.03) scale(1,1.08)"><text x="0" y="0" textLength="65.4" lengthAdjust="spacingAndGlyphs" fill="#B2B5BE" stroke="#B2B5BE" stroke-width="0.25" font-size="14.7">3,720.000</text></g>
<g transform="translate(1688.6,336.3) rotate(0.03) scale(1,1.08)"><text x="0" y="0" textLength="65.4" lengthAdjust="spacingAndGlyphs" fill="#B2B5BE" stroke="#B2B5BE" stroke-width="0.25" font-size="14.7">3,700.000</text></g>
<g transform="translate(1688.6,396.0) rotate(0.03) scale(1,1.08)"><text x="0" y="0" textLength="65.4" lengthAdjust="spacingAndGlyphs" fill="#B2B5BE" stroke="#B2B5BE" stroke-width="0.25" font-size="14.7">3,680.000</text></g>
<g transform="translate(1688.6,455.7) rotate(0.03) scale(1,1.08)"><text x="0" y="0" textLength="65.4" lengthAdjust="spacingAndGlyphs" fill="#B2B5BE" stroke="#B2B5BE" stroke-width="0.25" font-size="14.7">3,660.000</text></g>
<g transform="translate(1688.6,515.3) rotate(0.03) scale(1,1.08)"><text x="0" y="0" textLength="65.4" lengthAdjust="spacingAndGlyphs" fill="#B2B5BE" stroke="#B2B5BE" stroke-width="0.25" font-size="14.7">3,640.000</text></g>
<g transform="translate(1688.6,575.0) rotate(0.03) scale(1,1.08)"><text x="0" y="0" textLength="65.4" lengthAdjust="spacingAndGlyphs" fill="#B2B5BE" stroke="#B2B5BE" stroke-width="0.25" font-size="14.7">3,620.000</text></g>
<path d="M1678 228 H1759 Q1761 228 1761 230 V264.6 Q1761 266.6 1759 266.6 H1678 Z" fill="#4CAF50"/>
<g transform="translate(1688.8,242.9) rotate(0.03) scale(1,1.08)"><text x="0" y="0" textLength="66.2" lengthAdjust="spacingAndGlyphs" fill="#ffffff" stroke="#ffffff" stroke-width="0.3" font-size="14.7">3,731.445</text></g>
<g transform="translate(1688.8,261.0) rotate(0.03) scale(1,1.06)"><text x="0" y="0" textLength="37.0" lengthAdjust="spacingAndGlyphs" fill="#ffffff" stroke="#ffffff" stroke-width="0.2" font-size="14.7" opacity="0.8">41:04</text></g>
</svg>
</body></html>
